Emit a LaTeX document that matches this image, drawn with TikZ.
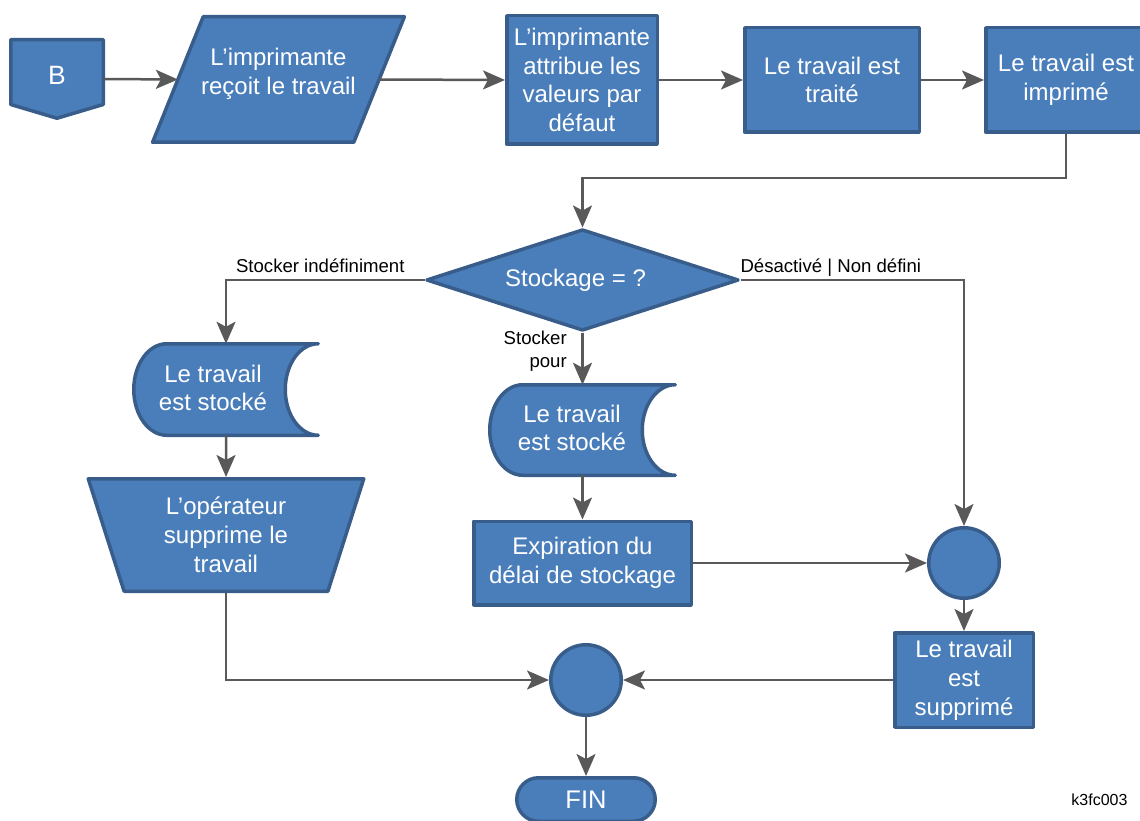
\documentclass[tikz,border=0pt]{standalone}
\usepackage{fontspec}
\setmainfont{Liberation Sans}
\usetikzlibrary{shapes.geometric,arrows.meta,backgrounds}
\definecolor{fillblue}{RGB}{74,126,187}
\definecolor{edgeblue}{RGB}{56,93,138}
\definecolor{conngray}{RGB}{89,89,89}
\newcommand\fcbig{\fontsize{24}{28.8}\selectfont}
\newcommand\fclbl{\fontsize{18.6}{23}\selectfont}
\begin{document}
\begin{tikzpicture}[x=1pt,y=1pt,
  shp/.style={draw=edgeblue, fill=fillblue, line width=3.5pt, line join=round},
  box/.style={shp, rectangle, align=center, inner sep=2pt, text=white, font=\fcbig},
  ghost/.style={rectangle, draw=none, fill=none, inner sep=0pt, outer sep=0pt},
  inlbl/.style={text=white, font=\fcbig, align=center, inner sep=0pt},
  conn/.style={draw=conngray, line width=2.5pt, -{Stealth[length=22pt,width=19pt,inset=5pt]}},
  lbl/.style={font=\fclbl, text=black, inner sep=0pt}]
\useasboundingbox (0,0) rectangle (1140,-821);

% nodes
\node[ghost, minimum width=92.5pt, minimum height=78.5pt,
  label={[inlbl, font=\fontsize{26.5}{30}\selectfont, yshift=4pt]center:B}] (B) at (57,-79) {};
\node[ghost, minimum width=201.2pt, minimum height=125.5pt,
  label={[inlbl, yshift=5.5pt]center:{L’imprimante\\reçoit le travail}}] (recv) at (278.5,-79.5) {};
\node[box, minimum width=150.5pt, minimum height=128.5pt] (attr) at (582,-80)
  {L’imprimante\\attribue les\\valeurs par\\défaut};
\node[box, minimum width=174.5pt, minimum height=104.5pt] (proc) at (832,-80)
  {Le travail est\\traité};
\node[box, minimum width=160.5pt, minimum height=104.5pt] (prnt) at (1066,-80)
  {Le travail est\\imprimé};
\node[shp, diamond, minimum width=312.5pt, minimum height=101.5pt, inner sep=0pt,
  label={[inlbl, xshift=-7pt]center:{Stockage = ?}}] (dec) at (582.5,-280) {};
\node[ghost, minimum width=184.5pt, minimum height=91.5pt,
  label={[inlbl, xshift=-13pt, yshift=1.5pt]center:{Le travail\\est stocké}}] (s1) at (226,-389.5) {};
\node[ghost, minimum width=185.5pt, minimum height=90.5pt,
  label={[inlbl, xshift=-10.5pt, yshift=2pt]center:{Le travail\\est stocké}}] (s2) at (582.5,-430) {};
\node[shp, trapezium, trapezium left angle=115.4, trapezium right angle=115.4,
  trapezium stretches body, minimum width=275.5pt, minimum height=112.5pt, inner sep=0pt,
  align=center, text=white, font=\fcbig] (manop) at (226,-535)
  {L’opérateur\\supprime le\\travail};
\node[box, minimum width=217.5pt, minimum height=83.5pt] (exp) at (582.5,-563)
  {Expiration du\\délai de stockage};
\node[shp, circle, minimum size=70.5pt, inner sep=0pt] (c2) at (964,-563) {};
\node[box, minimum width=138.5pt, minimum height=94.5pt] (del) at (964,-680)
  {Le travail\\est\\supprimé};
\node[shp, circle, minimum size=70.5pt, inner sep=0pt] (c1) at (586,-680) {};
\node[box, rounded corners=21.75pt, minimum width=138.5pt, minimum height=43.5pt,
  font=\fontsize{25.5}{30}\selectfont] (fin) at (586,-799.5) {FIN};
\node[font=\fontsize{16}{19}\selectfont, inner sep=0pt] (code) at (1099.5,-800) {k3fc003};

% custom shapes
\begin{scope}[on background layer]
\draw[shp] (B.north west) -- (B.north east) -- ([yshift=13.75pt]B.south east) -- (B.south)
  -- ([yshift=13.75pt]B.south west) -- cycle;
\draw[shp] ([xshift=-25.3pt]recv.south west) -- ([xshift=25.3pt]recv.north west)
  -- ([xshift=25.3pt]recv.north east) -- ([xshift=-25.3pt]recv.south east) -- cycle;
\draw[shp] (s1.north east) -- ([xshift=33pt]s1.north west)
  arc[start angle=90, end angle=270, x radius=33pt, y radius=45.75pt]
  -- (s1.south east)
  arc[start angle=-90, end angle=-270, x radius=33pt, y radius=45.75pt] -- cycle;
\draw[shp] (s2.north east) -- ([xshift=33pt]s2.north west)
  arc[start angle=90, end angle=270, x radius=33pt, y radius=45.25pt]
  -- (s2.south east)
  arc[start angle=-90, end angle=-270, x radius=33pt, y radius=45.25pt] -- cycle;
\end{scope}

% connectors
\draw[conn] (B.east) -- (recv.west);
\draw[conn] (recv.east) -- (attr.west);
\draw[conn] (attr.east) -- (proc.west);
\draw[conn] (proc.east) -- (prnt.west);
\draw[conn] (prnt.south) -- ++(0,-44) -| (dec.north);
\draw[conn] (dec.west) -| node[lbl, pos=0.2625, anchor=base, yshift=7.3pt] {Stocker indéfiniment} (s1.north);
\draw[conn] (dec.south) -- node[lbl, pos=0.36, anchor=east, xshift=-14.5pt, align=right] {Stocker\\pour} (s2.north);
\draw[conn] (dec.east) -| node[lbl, pos=0.202, anchor=base, yshift=7.3pt] {Désactivé | Non défini} (c2.north);
\draw[conn] (s1.south) -- (manop.north);
\draw[conn] (manop.south) |- (c1.west);
\draw[conn] (s2.south) -- (exp.north);
\draw[conn] (exp.east) -- (c2.west);
\draw[conn] (c2.south) -- (del.north);
\draw[conn] (del.west) -- (c1.east);
\draw[conn] (c1.south) -- (fin.north);
\end{tikzpicture}
\end{document}
